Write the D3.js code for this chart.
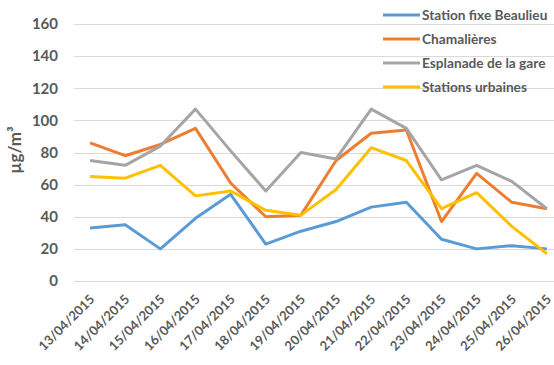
<!DOCTYPE html>
<html>
<head>
<meta charset="utf-8">
<script src="https://cdn.jsdelivr.net/npm/d3@7"></script>
<style>
body { margin: 0; background: #fff; }
text { font-family: Lato, "Open Sans", sans-serif; fill: #595959; font-weight: 700; }
</style>
</head>
<body>
<div id="chart"></div>
<script>
var dates = ["13/04/2015", "14/04/2015", "15/04/2015", "16/04/2015", "17/04/2015", "18/04/2015", "19/04/2015",
	"20/04/2015", "21/04/2015", "22/04/2015", "23/04/2015", "24/04/2015", "25/04/2015", "26/04/2015"];
var seriesNames = ["Station fixe Beaulieu", "Chamalières", "Esplanade de la gare", "Stations urbaines"];
var beaulieu = [33, 35, 20, 39, 54, 23, 31, 37, 46, 49, 26, 20, 22, 20];
var chamalieres = [86, 78, 85, 95, 61, 40, 41, 75, 92, 94, 37, 67, 49, 45];
var esplanade = [75, 72, 84, 107, 81, 56, 80, 76, 107, 95, 63, 72, 62, 45];
var urbaines = [65, 64, 72, 53, 56, 44, 41, 57, 83, 75, 45, 55, 34, 17];
var yTicks = [0, 20, 40, 60, 80, 100, 120, 140, 160];

var series = [beaulieu, chamalieres, esplanade, urbaines];
var colors = ["#5B9BD5", "#ED7D31", "#A5A5A5", "#FFC000"];

var width = 554,
	height = 365;

var x = d3.scaleBand()
	.domain(dates)
	.range([72.5, 564.5]);

var y = d3.scaleLinear()
	.domain([0, 160])
	.range([281, 24]);

var svg = d3.select("#chart").append("svg")
	.attr("width", width)
	.attr("height", height);

// gridlines + y labels
svg.selectAll(".grid")
	.data(yTicks)
	.enter().append("line")
	.attr("class", "grid")
	.attr("x1", 74)
	.attr("x2", width)
	.attr("y1", function(d) { return Math.round(y(d)) + 0.5; })
	.attr("y2", function(d) { return Math.round(y(d)) + 0.5; })
	.style("stroke", "#D9D9D9")
	.style("stroke-width", 1);

svg.selectAll(".ylab")
	.data(yTicks)
	.enter().append("text")
	.attr("class", "ylab")
	.attr("x", 58)
	.attr("y", function(d) { return y(d); })
	.attr("dy", ".35em")
	.attr("text-anchor", "end")
	.style("font-size", "15px")
	.text(function(d) { return d; });

svg.append("text")
	.attr("transform", "translate(21,150) rotate(-90)")
	.attr("text-anchor", "middle")
	.style("font-size", "17px")
	.text("µg/m³");

// x labels
svg.selectAll(".xlab")
	.data(dates)
	.enter().append("text")
	.attr("class", "xlab")
	.attr("transform", function(d) { return "translate(" + (x(d) + x.bandwidth() / 2 + 2) + ",297) rotate(-45)"; })
	.attr("text-anchor", "end")
	.attr("dy", ".35em")
	.style("font-size", "13px")
	.text(function(d) { return d; });

// lines
var line = d3.line()
	.x(function(d, i) { return x(dates[i]) + x.bandwidth() / 2; })
	.y(function(d) { return y(d); });

svg.selectAll(".serie")
	.data(series)
	.enter().append("path")
	.attr("class", "serie")
	.attr("d", line)
	.style("fill", "none")
	.style("stroke", function(d, i) { return colors[i]; })
	.style("stroke-width", 3)
	.style("stroke-linejoin", "round");

// legend
var legend = svg.selectAll(".legend")
	.data(seriesNames)
	.enter().append("g")
	.attr("class", "legend")
	.attr("transform", function(d, i) { return "translate(383," + (15 + i * 24) + ")"; });

legend.append("line")
	.attr("x1", 0)
	.attr("x2", 37)
	.style("stroke", function(d, i) { return colors[i]; })
	.style("stroke-width", 3);

legend.append("text")
	.attr("x", 39)
	.attr("dy", ".35em")
	.style("font-size", "13.7px")
	.text(function(d) { return d; });
</script>
</body>
</html>
